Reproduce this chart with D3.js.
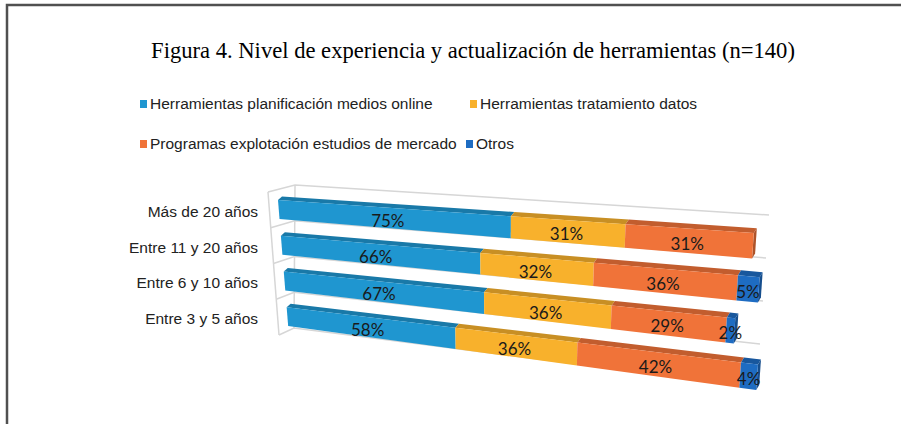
<!DOCTYPE html>
<html>
<head>
<meta charset="utf-8">
<script src="https://cdn.jsdelivr.net/npm/d3@7"></script>
<style>
  body { margin: 0; background: #fff; }
</style>
</head>
<body>
<div class="chart"></div>
<script>
const categories = ["Más de 20 años", "Entre 11 y 20 años", "Entre 6 y 10 años", "Entre 3 y 5 años"];
const seriesNames = ["Herramientas planificación medios online", "Herramientas tratamiento datos",
                     "Programas explotación estudios de mercado", "Otros"];
const planificacion = [75, 66, 67, 58];
const tratamiento = [31, 32, 36, 36];
const programas = [31, 36, 29, 42];
const otros = [0, 5, 2, 4];
const colors = ["#1f96d0", "#f8b12c", "#f07339", "#1e6cc2"];

const width = 901, height = 424;

const table = categories.map((c, i) => ({
    cat: c,
    [seriesNames[0]]: planificacion[i],
    [seriesNames[1]]: tratamiento[i],
    [seriesNames[2]]: programas[i],
    [seriesNames[3]]: otros[i]
}));
const stacked = d3.stack().keys(seriesNames)(table);

const svg = d3.select(".chart").append("svg")
    .attr("width", width)
    .attr("height", height);

// page frame
svg.append("path")
    .attr("d", `M7,${height} V5 H${width}`)
    .attr("fill", "none")
    .attr("stroke", "#505050")
    .attr("stroke-width", 2.5);

svg.append("text")
    .attr("x", 473)
    .attr("y", 58)
    .attr("text-anchor", "middle")
    .style("font-family", "'Liberation Serif', serif")
    .style("font-size", "22.6px")
    .attr("fill", "#000")
    .text("Figura 4. Nivel de experiencia y actualización de herramientas (n=140)");

// legend
const legendRows = [[0, 1], [2, 3]];
const legendY = [104, 144];
const legendCol2 = [470, 466];
legendRows.forEach((row, r) => {
    row.forEach((k, j) => {
        const x = j === 0 ? 140 : legendCol2[r];
        const g = svg.append("g").attr("transform", `translate(${x},${legendY[r]})`);
        g.append("rect").attr("x", 0).attr("y", -4).attr("width", 7).attr("height", 8).attr("fill", colors[k]);
        g.append("text")
            .attr("x", 10)
            .attr("dy", "0.35em")
            .style("font-family", "'Liberation Sans', Arial, sans-serif")
            .style("font-size", "15.5px")
            .attr("fill", "#222")
            .text(seriesNames[k]);
    });
});

// perspective set-up: value axis, front face bands at the left and right ends
const xValue = d3.scaleLinear().domain([0, 140]).range([0, 1]);
const persp = 1.269;
const yLeft = d3.scaleBand().domain(categories).range([191.6, 334.5]).paddingInner(0.47).paddingOuter(0.235);
const yRight = d3.scaleBand().domain(categories).range([225, 399]).paddingInner(0.414).paddingOuter(0.207);
const xLeftEdge = d3.scaleLinear().domain([200, 324]).range([278, 288]);
const xRightEdge = d3.scaleLinear().domain([234, 364]).range([767, 758]);
const depthX = d3.scaleLinear().domain([0, 1]).range([4, 3]);
const depthY = d3.scaleLinear().domain([0, 1]).range([-3.5, -5]);

function project(u, yl, yr) {
    const t = xValue(u);
    const s = t / (t + persp * (1 - t));
    const xl = xLeftEdge(yl), xr = xRightEdge(yr);
    return [xl + s * (xr - xl), yl + s * (yr - yl), s];
}
const back = p => [p[0] + depthX(p[2]), p[1] + depthY(p[2])];
const poly = pts => "M" + pts.map(p => p[0] + "," + p[1]).join("L") + "Z";

// walls and gridlines
const slots = d3.range(categories.length + 1);
const wallFrontX = d3.scaleLinear().domain([0, 4]).range([268, 279]);
const wallFrontY = d3.scaleLinear().domain([0, 4]).range([192, 335]);
const wallBackX = d3.scaleLinear().domain([0, 4]).range([295, 294]);
const wallBackY = d3.scaleLinear().domain([0, 4]).range([185, 328]);
const gridEndX = d3.scaleLinear().domain([0, 4]).range([769, 757]);
const gridEndY = d3.scaleLinear().domain([0, 4]).range([215, 387]);

const grid = svg.append("g")
    .attr("fill", "none")
    .attr("stroke", "#d6d6d6")
    .attr("stroke-width", 1.5);
grid.append("path").attr("d", `M${wallFrontX(0)},${wallFrontY(0)}L${wallFrontX(4)},${wallFrontY(4)}`);
grid.append("path").attr("d", `M${wallBackX(0)},${wallBackY(0)}L${wallBackX(4)},${wallBackY(4)}`);
grid.selectAll("path.slot")
    .data(slots)
    .enter()
    .append("path")
    .attr("class", "slot")
    .attr("d", k => `M${wallFrontX(k)},${wallFrontY(k)}L${wallBackX(k)},${wallBackY(k)}L${gridEndX(k)},${gridEndY(k)}`);

// category labels
svg.append("g")
    .selectAll("text")
    .data(categories)
    .enter()
    .append("text")
    .attr("x", 258)
    .attr("y", d => yLeft(d) + yLeft.bandwidth() / 2 + 2)
    .attr("dy", "0.35em")
    .attr("text-anchor", "end")
    .style("font-family", "'Liberation Sans', Arial, sans-serif")
    .style("font-size", "15.5px")
    .attr("fill", "#222")
    .text(d => d);

// bars
const segments = [];
stacked.forEach((layer, k) => {
    layer.forEach((d, i) => {
        if (d[1] - d[0] <= 0) return;
        segments.push({ k, cat: categories[i], u0: d[0], u1: d[1], value: d[1] - d[0],
                        last: d[1] === d3.max(stacked, l => l[i][1]) });
    });
});

const bars = svg.append("g");
segments.forEach(seg => {
    const yl0 = yLeft(seg.cat), yl1 = yl0 + yLeft.bandwidth();
    const yr0 = yRight(seg.cat), yr1 = yr0 + yRight.bandwidth();
    const A = project(seg.u0, yl0, yr0), B = project(seg.u1, yl0, yr0);
    const C = project(seg.u1, yl1, yr1), D = project(seg.u0, yl1, yr1);
    const base = d3.color(colors[seg.k]);
    if (seg.last) {
        bars.append("path").attr("d", poly([B, back(B), back(C), C])).attr("fill", base.darker(0.9));
    }
    bars.append("path").attr("d", poly([A, B, back(B), back(A)])).attr("fill", base.darker(0.6));
    bars.append("path").attr("d", poly([A, B, C, D])).attr("fill", base);
});

// value labels
svg.append("g")
    .selectAll("text")
    .data(segments)
    .enter()
    .append("text")
    .attr("transform", d => {
        const um = (d.u0 + d.u1) / 2;
        const p = project(um, yLeft(d.cat) + yLeft.bandwidth() / 2, yRight(d.cat) + yRight.bandwidth() / 2);
        return `translate(${p[0]},${p[1] + 3})`;
    })
    .attr("dy", "0.35em")
    .attr("text-anchor", "middle")
    .style("font-family", "Lato, sans-serif")
    .style("font-size", "17px")
    .attr("fill", "#1a1a1a")
    .text(d => d.value + "%");
</script>
</body>
</html>
